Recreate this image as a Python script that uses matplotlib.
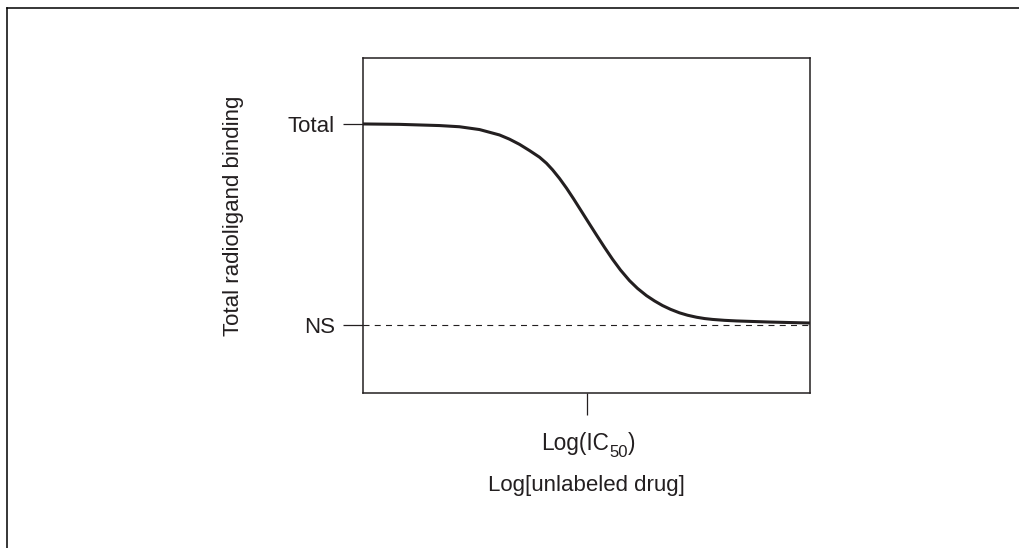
import matplotlib
matplotlib.use("Agg")
import matplotlib.pyplot as plt
import matplotlib.transforms as mtransforms
from matplotlib.lines import Line2D

plt.rcParams['font.family'] = ['Liberation Sans', 'DejaVu Sans']
plt.rcParams['lines.scale_dashes'] = False

# ---- data (log concentration relative to IC50, % of total binding) ----
log_conc = [-3.00, -2.510, -1.973, -1.705, -1.436, -1.168, -1.034, -0.899, -0.765,
            -0.631, -0.537, -0.456, -0.362, -0.268, -0.174, -0.094, 0.040, 0.134,
            0.242, 0.349, 0.456, 0.577, 0.685, 0.805, 0.913, 1.020, 1.128, 1.248,
            1.356, 1.477, 1.584, 1.691, 1.852, 2.013, 2.456, 3.00]
binding = [100.0, 99.80, 99.20, 98.61, 97.21, 94.53, 92.44, 89.85, 86.77,
           83.48, 80.45, 77.21, 72.89, 68.06, 62.79, 58.11, 50.25, 44.78,
           38.61, 32.74, 27.36, 22.09, 18.21, 14.63, 11.99, 9.70, 7.81, 6.07,
           4.88, 3.88, 3.23, 2.79, 2.34, 2.04, 1.49, 1.00]
ns_level = 0.0
total_level = 100.0
ic50 = 0.0
y_tick_labels = ["NS", "Total"]
x_tick_parts = ["Log(IC", "50", ")"]
x_label = "Log[unlabeled drug]"
y_label = "Total radioligand binding"

ink = '#231f20'
W, H = 1019, 548
fig = plt.figure(figsize=(W / 100, H / 100), dpi=100)
ax = fig.add_axes([363 / W, 1 - 393 / H, (810 - 363) / W, (393 - 58) / H])

ax.plot(log_conc, binding, color=ink, lw=2.2, solid_capstyle='butt',
        solid_joinstyle='round', zorder=3)
ax.plot([log_conc[0], log_conc[-1]], [ns_level, ns_level], color=ink, lw=0.8,
        dashes=(4.3, 3.8), zorder=2)

ax.set_xlim(-3.0, 3.0)
ax.set_ylim(-33.8, 132.8)

ax.set_yticks([ns_level, total_level])
ax.set_yticklabels(y_tick_labels, fontsize=16, color=ink)
ax.set_xticks([ic50])
ax.set_xticklabels([""])
ax.tick_params(axis='y', length=14.4, width=0.9, color=ink, pad=6)
ax.tick_params(axis='x', length=15.8, width=0.9, color=ink, pad=12)

# x tick label with a large subscript
blend = mtransforms.blended_transform_factory(ax.transData, ax.transAxes)
t1 = ax.text(ic50, (393 - 450) / 335, x_tick_parts[0], fontsize=16.3, color=ink,
             ha='left', va='baseline',
             transform=mtransforms.offset_copy(blend, fig, x=-45.5, y=0, units='dots'))
t2 = ax.annotate(x_tick_parts[1], xy=(1, 0), xycoords=t1, xytext=(0.4, -3.8),
                 textcoords='offset points', fontsize=12, color=ink,
                 ha='left', va='bottom', annotation_clip=False)
t3 = ax.annotate(x_tick_parts[2], xy=(1, 0), xycoords=(t2, t1), xytext=(0.3, 0),
                 textcoords='offset points', fontsize=16.3, color=ink,
                 ha='left', va='bottom', annotation_clip=False)

ax.set_xlabel(x_label, fontsize=16, color=ink)
ax.xaxis.label.set_va('baseline')
ax.xaxis.set_label_coords(0.5, (393 - 491) / 335)

for s in ax.spines.values():
    s.set_linewidth(1.1)
    s.set_color(ink)

fig.text(233 / W, 1 - 216 / H, y_label, rotation=90, ha='center', va='center',
         fontsize=16, color=ink)

# partial outer frame (top and left)
fig.add_artist(Line2D([7 / W, 1.0], [1 - 8 / H, 1 - 8 / H], color='black', lw=1.1,
                      transform=fig.transFigure))
fig.add_artist(Line2D([7 / W, 7 / W], [0.0, 1 - 8 / H], color='black', lw=1.1,
                      transform=fig.transFigure))

fig.savefig('out.png', dpi=100, facecolor='white')
